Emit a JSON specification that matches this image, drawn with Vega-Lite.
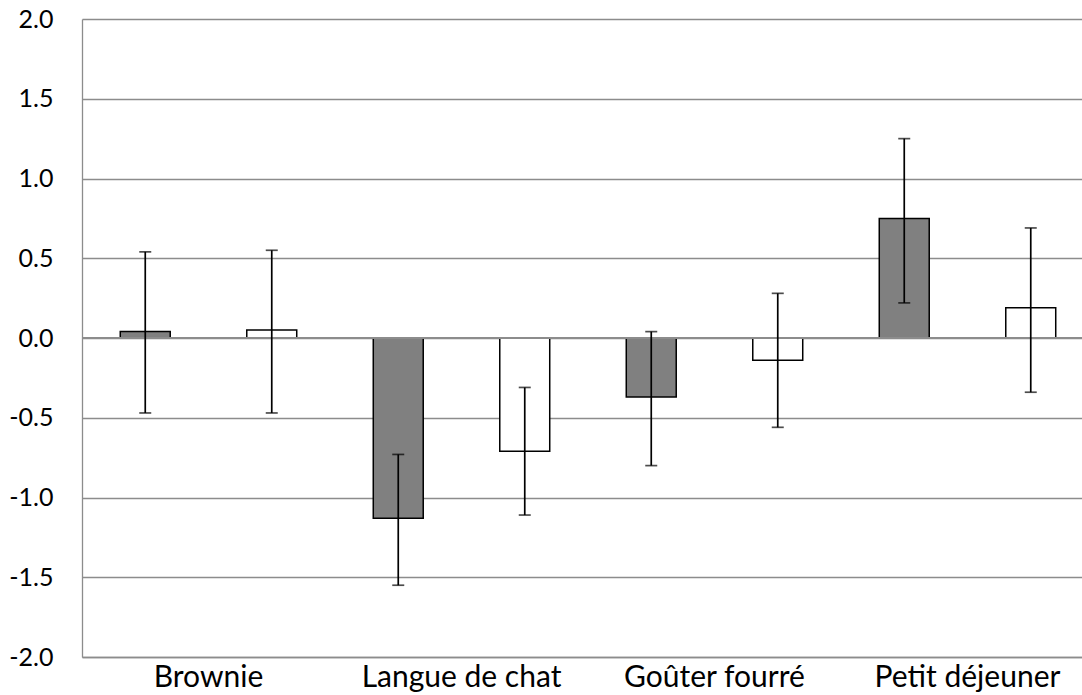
{
  "$schema": "https://vega.github.io/schema/vega-lite/v6.json",
  "width": 1000,
  "height": 638,
  "autosize": {"type": "none"},
  "padding": {"left": 82, "top": 19, "right": 0, "bottom": 38},
  "background": "white",
  "config": {"view": {"stroke": null}, "font": "Lato"},
  "data": {
    "values": [
      {"cat": "Brownie", "series": "A", "value": 0.04, "lo": -0.47, "hi": 0.54},
      {"cat": "Brownie", "series": "B", "value": 0.05, "lo": -0.47, "hi": 0.55},
      {"cat": "Langue de chat", "series": "A", "value": -1.13, "lo": -1.55, "hi": -0.73},
      {"cat": "Langue de chat", "series": "B", "value": -0.71, "lo": -1.11, "hi": -0.31},
      {"cat": "Goûter fourré", "series": "A", "value": -0.37, "lo": -0.80, "hi": 0.04},
      {"cat": "Goûter fourré", "series": "B", "value": -0.14, "lo": -0.56, "hi": 0.28},
      {"cat": "Petit déjeuner", "series": "A", "value": 0.75, "lo": 0.22, "hi": 1.25},
      {"cat": "Petit déjeuner", "series": "B", "value": 0.19, "lo": -0.34, "hi": 0.69}
    ]
  },
  "layer": [
    {
      "mark": {"type": "bar", "stroke": "black", "strokeWidth": 1.5},
      "encoding": {
        "x": {
          "field": "cat", "type": "nominal",
          "sort": ["Brownie", "Langue de chat", "Goûter fourré", "Petit déjeuner"],
          "scale": {"range": [0, 1012], "paddingInner": 0, "paddingOuter": 0},
          "axis": {"title": null, "labelAngle": 0, "labelFontSize": 30, "labelLimit": 0, "labelColor": "black", "labelPadding": 5, "ticks": false, "domainColor": "#8c8c8c", "domainWidth": 1.3, "grid": false}
        },
        "xOffset": {"field": "series", "type": "nominal", "sort": ["A", "B"], "scale": {"paddingInner": 0.605, "paddingOuter": 0.3025}},
        "y": {
          "field": "value", "type": "quantitative",
          "scale": {"domain": [-2, 2], "nice": false, "zero": false},
          "axis": {"title": null, "values": [-2, -1.5, -1, -0.5, 0, 0.5, 1, 1.5, 2], "labelExpr": "datum.value < 0 ? '-' + format(-datum.value, '.1f') : format(datum.value, '.1f')", "labelFontSize": 25, "labelColor": "black", "labelPadding": 29, "ticks": false, "domainColor": "#8c8c8c", "domainWidth": 1.3, "grid": true, "gridColor": "#8c8c8c", "gridWidth": 1.3}
        },
        "y2": {"datum": 0},
        "fill": {"field": "series", "type": "nominal", "scale": {"domain": ["A", "B"], "range": ["#808080", "#ffffff"]}, "legend": null}
      }
    },
    {
      "mark": {"type": "rule", "color": "#8c8c8c", "strokeWidth": 1.3},
      "encoding": {"y": {"datum": 0}}
    },
    {
      "mark": {"type": "rule", "color": "black", "strokeWidth": 1.7},
      "encoding": {
        "x": {"field": "cat", "type": "nominal", "sort": ["Brownie", "Langue de chat", "Goûter fourré", "Petit déjeuner"]},
        "xOffset": {"field": "series", "type": "nominal", "sort": ["A", "B"]},
        "y": {"field": "lo", "type": "quantitative"},
        "y2": {"field": "hi"}
      }
    },
    {
      "mark": {"type": "tick", "color": "black", "thickness": 1.7, "size": 12, "orient": "horizontal"},
      "encoding": {
        "x": {"field": "cat", "type": "nominal", "sort": ["Brownie", "Langue de chat", "Goûter fourré", "Petit déjeuner"]},
        "xOffset": {"field": "series", "type": "nominal", "sort": ["A", "B"]},
        "y": {"field": "lo", "type": "quantitative"}
      }
    },
    {
      "mark": {"type": "tick", "color": "black", "thickness": 1.7, "size": 12, "orient": "horizontal"},
      "encoding": {
        "x": {"field": "cat", "type": "nominal", "sort": ["Brownie", "Langue de chat", "Goûter fourré", "Petit déjeuner"]},
        "xOffset": {"field": "series", "type": "nominal", "sort": ["A", "B"]},
        "y": {"field": "hi", "type": "quantitative"}
      }
    }
  ]
}
